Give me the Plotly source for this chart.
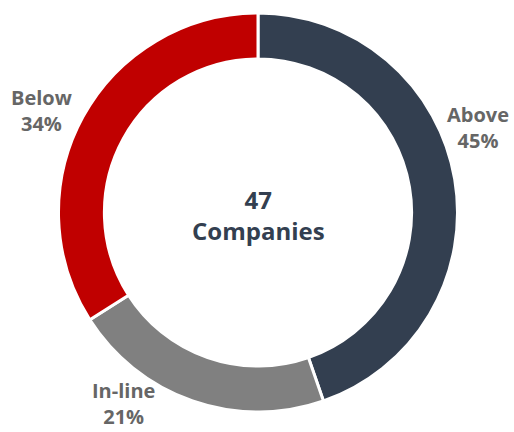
import plotly.graph_objects as go

categories = ["Above", "In-line", "Below"]
counts = [21, 10, 16]
colors = ["#333F50", "#808080", "#C00000"]
center_text = "47<br>Companies"

# label anchor positions in pixels (center of two-line label)
label_px = {"Above": (478, 127), "In-line": (123, 403), "Below": (41, 111)}

W, H = 514, 432
cx, cy, r = 258, 212.5, 199.5
dom_x = [(cx - r) / W, (cx + r) / W]
dom_y = [(H - cy - r) / H, (H - cy + r) / H]

fig = go.Figure(go.Pie(
    labels=categories, values=counts, hole=0.77, sort=False, direction="clockwise",
    rotation=0, textinfo="none", hoverinfo="label+percent",
    marker=dict(colors=colors, line=dict(color="white", width=3)),
    domain=dict(x=dom_x, y=dom_y), showlegend=False,
))

def px(x, y):
    return x / W, (H - y) / H

tot = sum(counts)
annos = []
for c, v in zip(categories, counts):
    ax, ay = px(*label_px[c])
    annos.append(dict(x=ax, y=ay, xref="paper", yref="paper", showarrow=False,
                      text=f"<b>{c}<br>{round(100*v/tot)}%</b>",
                      font=dict(family="Open Sans", size=20, color="#666666"),
                      xanchor="center", yanchor="middle"))
ax, ay = px(cx, 215)
annos.append(dict(x=ax, y=ay, xref="paper", yref="paper", showarrow=False,
                  text=f"<b>{center_text}</b>",
                  font=dict(family="Open Sans", size=24, color="#333F50"),
                  xanchor="center", yanchor="middle"))

fig.update_layout(width=W, height=H, margin=dict(l=0, r=0, t=0, b=0),
                  paper_bgcolor="white", plot_bgcolor="white", annotations=annos)
fig.write_html("out.html")
